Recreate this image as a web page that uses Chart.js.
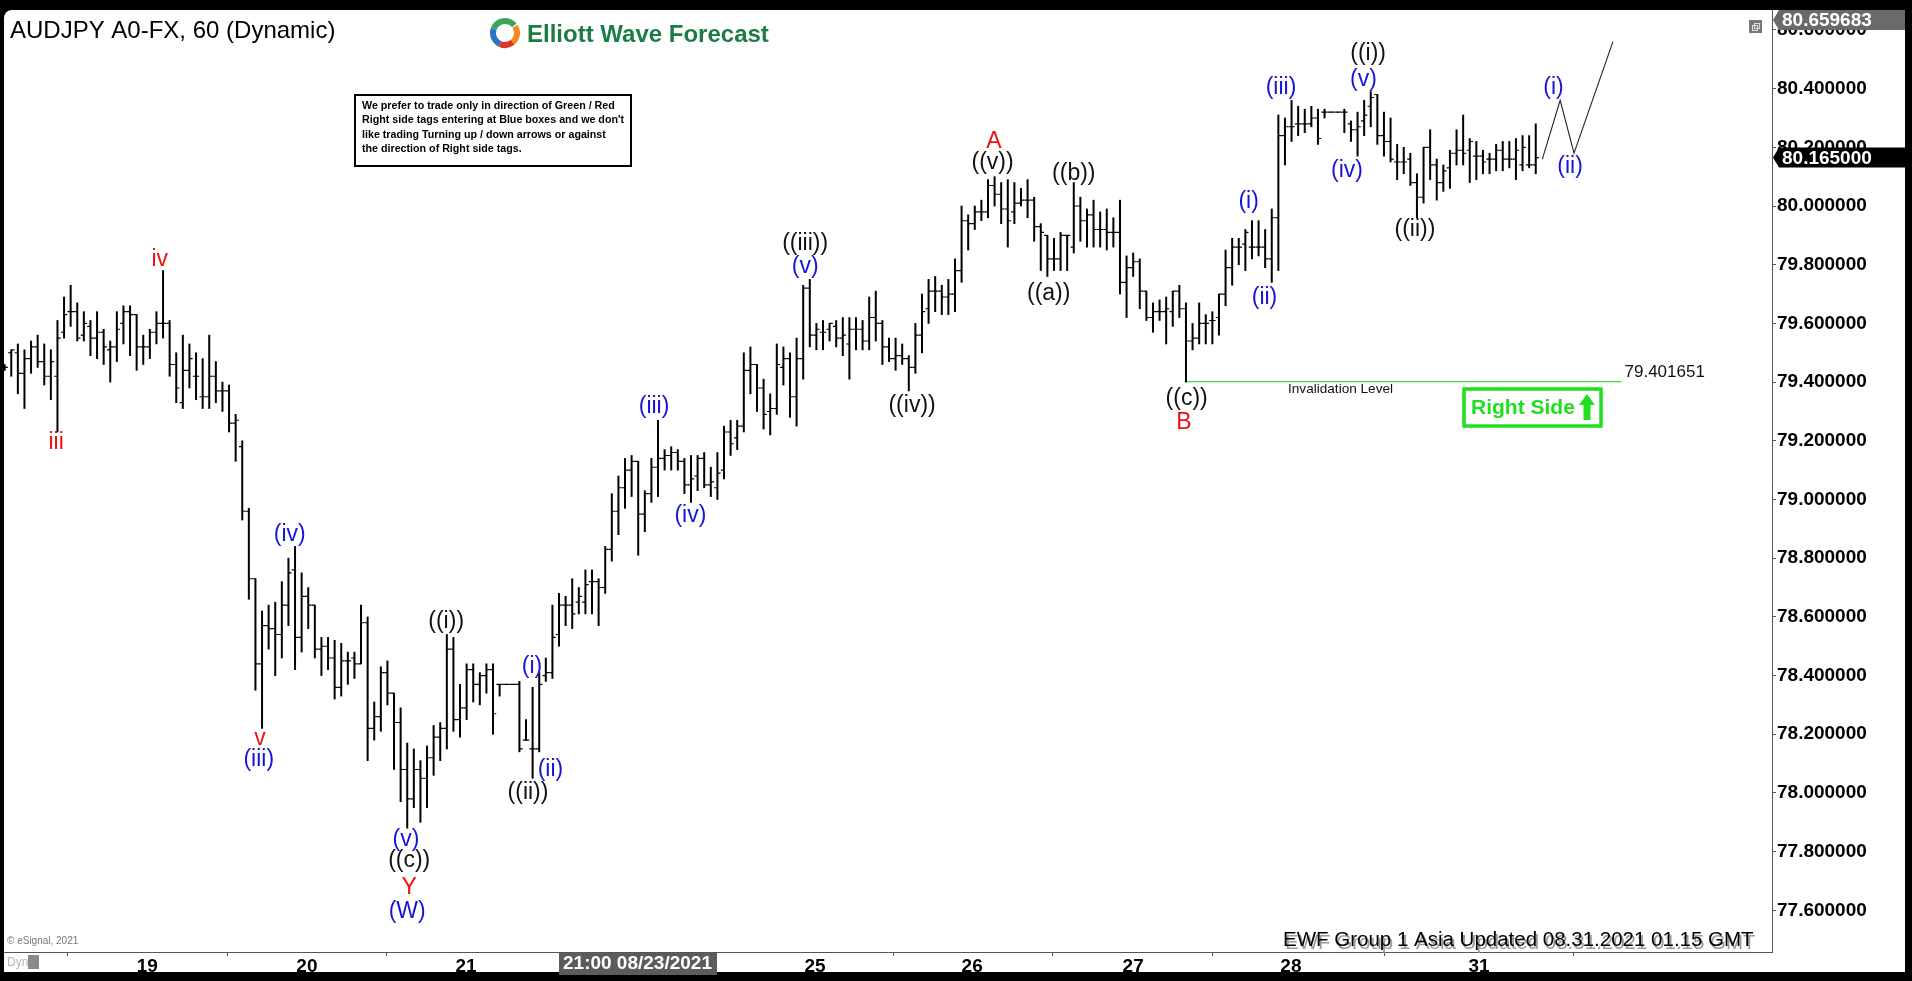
<!DOCTYPE html>
<html>
<head>
<meta charset="utf-8">
<script src="https://cdn.jsdelivr.net/npm/chart.js@4.4.0/dist/chart.umd.min.js"></script>
<style>
  html, body { margin: 0; padding: 0; background: #000; overflow: hidden; }
  #wrap { width: 1912px; height: 981px; position: relative; }
</style>
</head>
<body>
<div id="wrap"><canvas id="chart"></canvas></div>
<script>
// hourly AUDJPY bars (bar 1 = first bar at the left edge)
const opens = [
  79.45,79.50,79.50,79.43,79.48,79.52,79.47,79.42,79.42,79.57,
  79.64,79.64,79.56,79.59,79.55,79.57,79.51,79.52,79.60,79.64,
  79.63,79.52,79.52,79.57,79.60,79.60,79.46,79.33,79.44,79.42,
  79.35,79.35,79.42,79.37,79.37,79.26,79.18,78.96,78.73,78.44,
  78.57,78.56,78.54,78.64,78.76,78.53,78.67,78.64,78.49,78.50,
  78.46,78.36,78.45,78.46,78.44,78.58,78.22,78.26,78.41,78.34,
  78.24,78.08,77.98,78.08,78.05,78.12,78.19,78.22,78.49,78.25,
  78.29,78.42,78.37,78.40,78.42,78.37,78.37,78.37,78.37,78.18,
  78.15,78.15,78.40,78.41,78.54,78.64,78.64,78.65,78.65,78.72,
  78.72,78.70,78.83,78.96,79.04,79.10,79.13,78.95,79.02,79.11,
  79.14,79.15,79.16,79.13,79.05,79.08,79.14,79.05,79.04,79.10,
  79.23,79.21,79.25,79.44,79.46,79.38,79.30,79.31,79.45,79.48,
  79.35,79.48,79.72,79.56,79.57,79.58,79.59,79.55,79.53,79.58,
  79.58,79.54,79.62,79.60,79.52,79.48,79.49,79.48,79.45,79.56,
  79.65,79.71,79.71,79.69,79.70,79.78,79.95,79.94,79.98,79.98,
  80.07,80.04,79.99,79.98,80.01,80.02,80.02,79.93,79.90,79.82,
  79.82,79.90,79.86,80.00,79.95,79.97,79.92,79.92,79.91,79.91,
  79.74,79.79,79.81,79.71,79.62,79.64,79.64,79.64,79.71,79.65,
  79.54,79.55,79.60,79.61,79.62,79.70,79.79,79.86,79.87,79.86,
  79.86,79.86,79.82,79.96,80.24,80.27,80.28,80.28,80.28,80.30,
  80.32,80.32,80.32,80.32,80.28,80.26,80.29,80.34,80.38,80.24,
  80.22,80.15,80.15,80.16,80.08,80.03,80.20,80.14,80.08,80.13,
  80.18,80.19,80.19,80.17,80.17,80.16,80.16,80.19,80.16,80.16,
  80.14,80.14,80.14
]
const highs = [
  79.46,79.51,79.53,79.51,79.54,79.56,79.53,79.51,79.61,79.69,
  79.73,79.67,79.64,79.61,79.64,79.58,79.54,79.64,79.66,79.66,
  79.63,79.56,79.58,79.64,79.78,79.61,79.50,79.56,79.53,79.50,
  79.48,79.56,79.47,79.40,79.39,79.29,79.20,78.97,78.73,78.62,
  78.64,78.65,78.72,78.80,78.84,78.75,78.70,78.64,78.53,78.53,
  78.52,78.51,78.48,78.48,78.64,78.60,78.31,78.43,78.45,78.34,
  78.29,78.17,78.15,78.11,78.16,78.23,78.24,78.54,78.53,78.37,
  78.44,78.44,78.41,78.44,78.44,78.37,78.37,78.37,78.38,78.25,
  78.36,78.41,78.46,78.64,78.68,78.67,78.73,78.70,78.76,78.76,
  78.73,78.84,79.02,79.08,79.14,79.15,79.13,79.03,79.14,79.27,
  79.17,79.18,79.17,79.14,79.15,79.15,79.16,79.11,79.16,79.25,
  79.27,79.27,79.50,79.52,79.46,79.41,79.36,79.53,79.52,79.50,
  79.55,79.73,79.75,79.60,79.61,79.60,79.61,79.62,79.62,79.62,
  79.61,79.69,79.71,79.61,79.55,79.55,79.53,79.49,79.60,79.70,
  79.75,79.76,79.73,79.75,79.82,80.00,79.97,80.00,80.02,80.09,
  80.10,80.08,80.09,80.08,80.06,80.09,80.03,79.94,79.90,79.89,
  79.91,79.90,80.08,80.03,79.99,80.02,79.98,79.99,79.96,80.02,
  79.83,79.84,79.82,79.71,79.67,79.68,79.69,79.71,79.73,79.67,
  79.60,79.67,79.63,79.64,79.70,79.85,79.89,79.89,79.92,79.95,
  79.95,79.92,79.99,80.31,80.30,80.36,80.34,80.33,80.34,80.33,
  80.33,80.32,80.32,80.33,80.29,80.32,80.36,80.39,80.38,80.32,
  80.30,80.21,80.20,80.18,80.11,80.20,80.26,80.16,80.14,80.19,
  80.26,80.31,80.23,80.22,80.19,80.18,80.21,80.22,80.22,80.23,
  80.24,80.24,80.28
]
const lows = [
  79.44,79.42,79.36,79.31,79.43,79.45,79.39,79.34,79.23,79.55,
  79.59,79.54,79.54,79.49,79.48,79.46,79.40,79.47,79.53,79.49,
  79.44,79.46,79.48,79.53,79.55,79.42,79.33,79.31,79.38,79.34,
  79.31,79.31,79.33,79.30,79.23,79.13,78.93,78.66,78.35,78.22,
  78.49,78.40,78.46,78.57,78.42,78.48,78.56,78.46,78.40,78.42,
  78.32,78.33,78.37,78.39,78.44,78.11,78.18,78.21,78.30,78.08,
  77.97,77.88,77.95,77.90,77.95,78.06,78.11,78.15,78.21,78.19,
  78.25,78.31,78.30,78.34,78.20,78.33,78.37,78.37,78.14,78.18,
  78.05,78.14,78.38,78.39,78.50,78.57,78.56,78.61,78.61,78.61,
  78.57,78.68,78.79,78.88,78.97,79.01,78.81,78.89,78.99,79.01,
  79.10,79.10,79.10,79.02,78.99,79.03,79.04,79.01,79.00,79.07,
  79.15,79.17,79.23,79.36,79.30,79.24,79.22,79.29,79.39,79.28,
  79.25,79.41,79.52,79.51,79.51,79.54,79.52,79.49,79.41,79.51,
  79.51,79.51,79.54,79.46,79.47,79.44,79.46,79.37,79.43,79.50,
  79.60,79.64,79.63,79.63,79.64,79.74,79.85,79.92,79.95,79.96,
  80.00,79.94,79.86,79.94,80.00,79.96,79.88,79.78,79.76,79.78,
  79.78,79.78,79.84,79.88,79.86,79.86,79.86,79.85,79.86,79.70,
  79.62,79.76,79.65,79.61,79.57,79.61,79.53,79.59,79.62,79.40,
  79.51,79.53,79.53,79.53,79.56,79.66,79.73,79.80,79.78,79.82,
  79.83,79.79,79.74,79.78,80.14,80.22,80.24,80.25,80.27,80.21,
  80.30,80.32,80.32,80.25,80.22,80.17,80.24,80.27,80.21,80.17,
  80.15,80.09,80.11,80.07,79.96,80.01,80.09,80.02,80.05,80.06,
  80.14,80.14,80.08,80.09,80.11,80.11,80.12,80.12,80.13,80.09,
  80.12,80.13,80.11
]
const closes = [
  79.45,79.51,79.43,79.48,79.52,79.47,79.42,79.47,79.55,79.63,
  79.64,79.55,79.60,79.55,79.57,79.52,79.52,79.58,79.64,79.63,
  79.52,79.52,79.57,79.60,79.60,79.46,79.38,79.44,79.48,79.42,
  79.35,79.42,79.37,79.37,79.26,79.27,78.96,78.73,78.44,78.57,
  78.56,78.54,78.64,78.75,78.53,78.67,78.64,78.49,78.50,78.46,
  78.36,78.45,78.45,78.44,78.58,78.22,78.26,78.41,78.34,78.24,
  78.08,77.98,78.08,78.05,78.12,78.19,78.22,78.49,78.25,78.29,
  78.42,78.37,78.40,78.42,78.27,78.37,78.37,78.37,78.15,78.18,
  78.15,78.37,78.41,78.53,78.64,78.64,78.61,78.67,78.71,78.72,
  78.70,78.83,78.96,79.04,79.10,79.13,78.95,79.02,79.11,79.14,
  79.15,79.16,79.13,79.05,79.07,79.14,79.05,79.06,79.09,79.23,
  79.19,79.25,79.44,79.46,79.38,79.29,79.31,79.46,79.48,79.35,
  79.48,79.72,79.56,79.58,79.57,79.60,79.55,79.56,79.58,79.58,
  79.54,79.62,79.60,79.52,79.48,79.49,79.48,79.45,79.56,79.64,
  79.71,79.71,79.69,79.70,79.78,79.95,79.94,79.98,79.98,80.07,
  80.04,79.99,79.95,80.01,80.02,80.02,79.93,79.91,79.82,79.82,
  79.90,79.90,80.00,79.95,79.97,79.92,79.92,79.91,79.91,79.74,
  79.79,79.81,79.71,79.62,79.64,79.64,79.65,79.71,79.65,79.54,
  79.55,79.60,79.60,79.61,79.70,79.79,79.86,79.86,79.91,79.86,
  79.86,79.82,79.96,80.24,80.27,80.27,80.28,80.28,80.30,80.23,
  80.32,80.32,80.32,80.32,80.26,80.27,80.31,80.37,80.24,80.22,
  80.16,80.15,80.15,80.08,80.03,80.20,80.14,80.08,80.12,80.18,
  80.19,80.18,80.22,80.17,80.15,80.16,80.19,80.16,80.16,80.19,
  80.20,80.14,80.165
]

// axis ticks
const dayTickIdx = [22.6, 46.8, 70.9, 123.8, 147.6, 172.0, 195.9, 224.4]
const dayTickLabels = ['19', '20', '21', '25', '26', '27', '28', '31']
const yTickValues = [77.6, 77.8, 78.0, 78.2, 78.4, 78.6, 78.8, 79.0, 79.2, 79.4, 79.6, 79.8, 80.0, 80.2, 80.4, 80.6]

// annotations (bar position, price)
const invalidationLevel = 79.401651
const invalidationFrom = 179.9
const invalidationTo = 246
const projection = [[234, 80.16], [236.7, 80.36], [238.8, 80.18], [244.7, 80.56]]
const lastPrice = 80.165
const topPrice = 80.659683

const waveLabels = [
  ['iv', 'red', 24.5, 79.816], ['iii', 'red', 8.8, 79.193], ['v', 'red', 39.7, 78.184],
  ['Y', 'red', 62.3, 77.676], ['A', 'red', 150.9, 80.221], ['B', 'red', 179.7, 79.261],
  ['(iii)', 'blue', 39.5, 78.112], ['(iv)', 'blue', 44.2, 78.879], ['(v)', 'blue', 61.8, 77.84],
  ['(W)', 'blue', 62.0, 77.595], ['(i)', 'blue', 80.9, 78.429], ['(ii)', 'blue', 83.7, 78.078],
  ['(iii)', 'blue', 99.4, 79.315], ['(iv)', 'blue', 104.9, 78.944], ['(v)', 'blue', 122.3, 79.792],
  ['(i)', 'blue', 189.5, 80.014], ['(ii)', 'blue', 191.9, 79.687], ['(iii)', 'blue', 194.4, 80.405],
  ['(iv)', 'blue', 204.4, 80.119], ['(v)', 'blue', 206.9, 80.429], ['(i)', 'blue', 235.7, 80.405],
  ['(ii)', 'blue', 238.2, 80.133],
  ['((i))', 'black', 67.9, 78.583], ['((c))', 'black', 62.3, 77.768], ['((ii))', 'black', 80.3, 78.0],
  ['((iii))', 'black', 122.3, 79.871], ['((iv))', 'black', 138.5, 79.319], ['((v))', 'black', 150.7, 80.147],
  ['((a))', 'black', 159.2, 79.70], ['((b))', 'black', 163.0, 80.112], ['((c))', 'black', 180.1, 79.342],
  ['((i))', 'black', 207.6, 80.518], ['((ii))', 'black', 214.7, 79.918]
]
const palette = { red: '#ee1111', blue: '#1515d8', black: '#111' }

const noteLines = [
  'We prefer to trade only in direction of Green / Red',
  "Right side tags entering at Blue boxes and we don't",
  'like trading Turning up / down arrows or against',
  'the direction of Right side tags.'
]

const FONT = '"Liberation Sans", Arial, sans-serif'

const hlBars = opens.map((o, i) => ({ x: i + 1, y: [lows[i], highs[i]] }))

const framePlugin = {
  id: 'frame',
  beforeDraw(chart) {
    const c = chart.ctx
    c.save()
    c.fillStyle = '#000'
    c.fillRect(0, 0, chart.width, chart.height)
    c.fillStyle = '#fff'
    c.beginPath()
    if (c.roundRect) c.roundRect(4, 10, 1901, 962, [8, 8, 0, 0])
    else c.rect(4, 10, 1901, 962)
    c.fill()
    c.restore()
  }
}

const ohlcTicks = {
  id: 'ohlcTicks',
  afterDatasetsDraw(chart) {
    const c = chart.ctx, xs = chart.scales.x, ys = chart.scales.y, a = chart.chartArea
    c.save()
    c.beginPath()
    c.rect(a.left, a.top, a.right - a.left, a.bottom - a.top)
    c.clip()
    c.strokeStyle = '#000'
    c.lineWidth = 1.15
    c.beginPath()
    for (let i = 0; i < opens.length; i++) {
      const x = xs.getPixelForValue(i + 1)
      const yo = ys.getPixelForValue(opens[i])
      const yc = ys.getPixelForValue(closes[i])
      c.moveTo(x - 3.2, yo); c.lineTo(x, yo)
      c.moveTo(x, yc); c.lineTo(x + 3.2, yc)
    }
    c.stroke()

    c.font = '23px ' + FONT
    c.textAlign = 'center'
    c.textBaseline = 'middle'
    waveLabels.forEach(([t, col, i, p]) => {
      c.fillStyle = palette[col]
      c.fillText(t, xs.getPixelForValue(i), ys.getPixelForValue(p))
    })
    c.restore()
  }
}

function priceBox(c, y, text, bg, x0, x1) {
  c.fillStyle = bg
  c.beginPath()
  c.moveTo(x0 - 6, y)
  c.lineTo(x0, y - 10)
  c.lineTo(x1, y - 10)
  c.lineTo(x1, y + 10)
  c.lineTo(x0, y + 10)
  c.closePath()
  c.fill()
  c.fillStyle = '#fff'
  c.font = 'bold 19px ' + FONT
  c.textAlign = 'left'
  c.textBaseline = 'middle'
  c.fillText(text, x0 + 3, y + 1)
}

const decorations = {
  id: 'decorations',
  afterDraw(chart) {
    const c = chart.ctx, xs = chart.scales.x, ys = chart.scales.y, a = chart.chartArea
    c.save()

    // title
    c.fillStyle = '#000'
    c.font = '24px ' + FONT
    c.textAlign = 'left'
    c.textBaseline = 'middle'
    c.fillText('AUDJPY A0-FX, 60 (Dynamic)', 10, 31)

    // logo
    const lx = 505, ly = 33, r = 12
    c.lineWidth = 6
    c.lineCap = 'butt'
    const arcs = [['#3aa65a', 3.5, 5.6], ['#2f74c0', 2.0, 3.5], ['#f08a24', 5.7, 7.2], ['#d9362b', 0.9, 2.0]]
    arcs.forEach(([col, s, e]) => { c.strokeStyle = col; c.beginPath(); c.arc(lx, ly, r, s, e); c.stroke() })
    c.fillStyle = '#1b7d45'
    c.font = 'bold 24px ' + FONT
    c.fillText('Elliott Wave Forecast', 527, 35)

    // note box
    c.fillStyle = '#fff'
    c.fillRect(355, 95, 276, 71)
    c.strokeStyle = '#000'
    c.lineWidth = 2
    c.strokeRect(355, 95, 276, 71)
    let fs = 12
    c.font = 'bold ' + fs + 'px ' + FONT
    fs = fs * 262 / c.measureText(noteLines[1]).width
    c.font = 'bold ' + fs.toFixed(2) + 'px ' + FONT
    c.fillStyle = '#000'
    noteLines.forEach((t, k) => c.fillText(t, 362, 106 + k * 14.5))

    // restore icon
    c.fillStyle = '#777'
    c.fillRect(1749, 20, 13, 13)
    c.strokeStyle = '#ddd'
    c.lineWidth = 1
    c.strokeRect(1752.5, 25.5, 5, 5)
    c.strokeRect(1754.5, 23.5, 5, 5)

    // invalidation texts
    const yInv = ys.getPixelForValue(invalidationLevel)
    c.fillStyle = '#111'
    c.font = '17px ' + FONT
    c.fillText('79.401651', xs.getPixelForValue(invalidationTo) + 3, yInv - 9)
    c.font = '13.6px ' + FONT
    c.fillText('Invalidation Level', 1288, yInv + 8)

    // Right Side tag
    c.strokeStyle = '#1fe01f'
    c.lineWidth = 3.5
    c.strokeRect(1464, 389, 137, 37)
    c.fillStyle = '#1fe01f'
    c.font = 'bold 21px ' + FONT
    c.fillText('Right Side', 1471, 408)
    c.beginPath()
    c.moveTo(1587, 394)
    c.lineTo(1595, 405)
    c.lineTo(1590.5, 405)
    c.lineTo(1590.5, 420)
    c.lineTo(1583.5, 420)
    c.lineTo(1583.5, 405)
    c.lineTo(1579, 405)
    c.closePath()
    c.fill()

    // footer texts
    c.font = '20.5px ' + FONT
    c.fillStyle = '#9a9a9a'
    c.fillText('EWF Group 1 Asia Updated 08.31.2021 01.15 GMT', 1285, 943)
    c.fillStyle = '#000'
    c.fillText('EWF Group 1 Asia Updated 08.31.2021 01.15 GMT', 1283, 940)
    c.fillStyle = '#777'
    c.font = '10px ' + FONT
    c.fillText('\u00a9 eSignal, 2021', 7, 941)
    c.fillStyle = '#b5b5b5'
    c.font = '12px ' + FONT
    c.fillText('Dyn', 7, 963)
    c.fillStyle = '#8a8a8a'
    c.fillRect(28, 955, 11, 14)

    // crosshair date label
    c.fillStyle = '#5c5c5c'
    c.fillRect(559, 953, 158, 22)
    c.fillStyle = '#fff'
    c.font = 'bold 19px ' + FONT
    c.fillText('21:00 08/23/2021', 563, 964)

    // price boxes on the axis
    const yTop = Math.max(ys.getPixelForValue(topPrice), a.top + 10)
    priceBox(c, yTop, topPrice.toFixed(6), '#6a6a6a', 1779, 1905)
    priceBox(c, ys.getPixelForValue(lastPrice), lastPrice.toFixed(6), '#000', 1779, 1905)

    c.restore()
  }
}

new Chart(document.getElementById('chart'), {
  type: 'bar',
  data: {
    datasets: [
      {
        type: 'bar',
        data: hlBars,
        backgroundColor: '#000',
        borderWidth: 0,
        barThickness: 1.35,
        grouped: false
      },
      {
        type: 'line',
        data: [{ x: invalidationFrom, y: invalidationLevel }, { x: invalidationTo, y: invalidationLevel }],
        borderColor: '#46d246',
        borderWidth: 1.3,
        pointRadius: 0
      },
      {
        type: 'line',
        data: projection.map(p => ({ x: p[0], y: p[1] })),
        borderColor: '#222',
        borderWidth: 1.1,
        pointRadius: 0,
        tension: 0
      }
    ]
  },
  options: {
    responsive: true,
    maintainAspectRatio: false,
    animation: false,
    events: [],
    layout: { padding: { left: 4, top: 10, right: 7, bottom: 9 } },
    plugins: { legend: { display: false }, tooltip: { enabled: false } },
    scales: {
      x: {
        type: 'linear',
        min: 0.9,
        max: 268.8,
        offset: false,
        afterBuildTicks: s => { s.ticks = dayTickIdx.map(v => ({ value: v })) },
        afterFit: s => { s.height = 20; s.paddingLeft = 0; s.paddingRight = 0 },
        ticks: {
          callback: (v, i) => dayTickLabels[i],
          font: { size: 19, weight: 'bold', family: FONT },
          color: '#000',
          maxRotation: 0,
          autoSkip: false,
          padding: -1
        },
        grid: { display: true, drawOnChartArea: false, tickLength: 4, color: '#555' },
        border: { display: true, color: '#555', width: 1 }
      },
      y: {
        position: 'right',
        min: 77.458,
        max: 80.668,
        afterBuildTicks: s => { s.ticks = yTickValues.map(v => ({ value: v })) },
        afterFit: s => { s.width = 133; s.paddingTop = 0; s.paddingBottom = 0 },
        ticks: {
          callback: v => Number(v).toFixed(6),
          font: { size: 19, weight: 'bold', family: FONT },
          color: '#000',
          padding: 1,
          autoSkip: false
        },
        grid: { display: true, drawOnChartArea: false, tickLength: 4, color: '#555' },
        border: { display: true, color: '#555', width: 1 }
      }
    }
  },
  plugins: [framePlugin, ohlcTicks, decorations]
})
</script>
</body>
</html>
